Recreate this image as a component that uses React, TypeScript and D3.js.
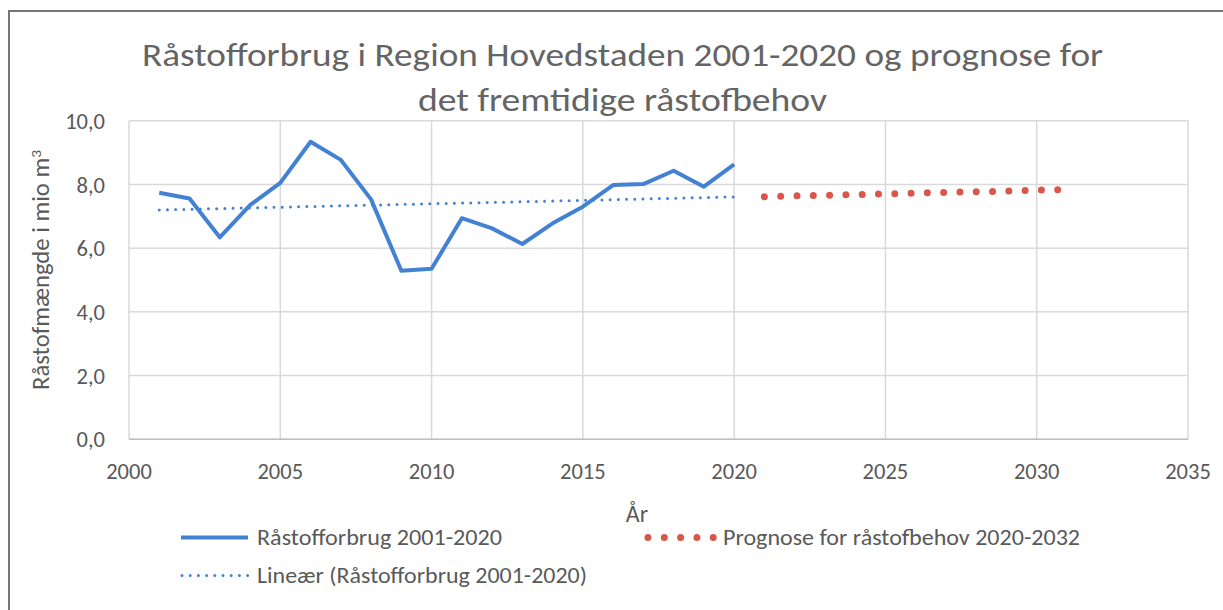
import React from "react";
import * as d3 from "d3";

// Råstofforbrug 2001-2020 (mio m3)
const years = [
  2001, 2002, 2003, 2004, 2005, 2006, 2007, 2008, 2009, 2010,
  2011, 2012, 2013, 2014, 2015, 2016, 2017, 2018, 2019, 2020,
];
const forbrug = [
  7.74, 7.56, 6.34, 7.35, 8.05, 9.34, 8.77, 7.53, 5.29, 5.35,
  6.94, 6.62, 6.13, 6.78, 7.3, 7.98, 8.01, 8.43, 7.93, 8.63,
];

// Prognose for råstofbehov
const prognoseYears = [2021, 2022, 2023, 2024, 2025, 2026, 2027, 2028, 2029, 2030, 2031];
const prognose = [7.61, 7.64, 7.66, 7.68, 7.7, 7.73, 7.75, 7.77, 7.79, 7.82, 7.84];

const xTicks = [2000, 2005, 2010, 2015, 2020, 2025, 2030, 2035];
const yTicks = [0, 2, 4, 6, 8, 10];

const titleLines = [
  "Råstofforbrug i Region Hovedstaden 2001-2020 og prognose for",
  "det fremtidige råstofbehov",
];
const legendNames = [
  "Råstofforbrug 2001-2020",
  "Prognose for råstofbehov 2020-2032",
  "Lineær (Råstofforbrug 2001-2020)",
];

const W = 1223;
const H = 610;
const FONT = "Carlito, Lato, 'Open Sans', sans-serif";
const TXT = "#595959";
const BLUE = "#4382d3";
const RED = "#d9574a";

export default function App() {
  const x = d3.scaleLinear().domain([2000, 2035]).range([129, 1188]);
  const y = d3.scaleLinear().domain([0, 10]).range([439.3, 120.7]);

  const pts: [number, number][] = years.map((yr, i) => [yr, forbrug[i]]);
  const progPts: [number, number][] = prognoseYears.map((yr, i) => [yr, prognose[i]]);

  // lineær trendlinje (mindste kvadraters metode)
  const mx = d3.mean(years) as number;
  const my = d3.mean(forbrug) as number;
  const slope =
    d3.sum(years, (yr, i) => (yr - mx) * (forbrug[i] - my)) /
    d3.sum(years, (yr) => (yr - mx) ** 2);
  const trend = (yr: number) => my + slope * (yr - mx);
  const trendPts: [number, number][] = [
    [years[0], trend(years[0])],
    [years[years.length - 1], trend(years[years.length - 1])],
  ];

  const line = d3
    .line<[number, number]>()
    .x((d) => x(d[0]))
    .y((d) => y(d[1]));

  return (
    <svg
      width={W}
      height={H}
      style={{ position: "absolute", left: 0, top: 0, background: "#fff" }}
      fontFamily={FONT}
    >
      <rect x={9} y={11} width={W} height={H} fill="#fff" stroke="#767676" strokeWidth={2} />

      {/* titel */}
      {titleLines.map((t, i) => (
        <text
          key={i}
          x={622.5}
          y={66 + i * 45}
          textAnchor="middle"
          fontSize={33}
          fill="#646464"
          textLength={i === 0 ? 961 : 409}
          lengthAdjust="spacingAndGlyphs"
        >
          {t}
        </text>
      ))}

      {/* gitterlinjer */}
      {yTicks.map((t) => (
        <line key={"gy" + t} x1={x(2000)} x2={x(2035)} y1={y(t)} y2={y(t)} stroke="#d9d9d9" strokeWidth={1.5} />
      ))}
      {xTicks.map((t) => (
        <line key={"gx" + t} x1={x(t)} x2={x(t)} y1={y(0)} y2={y(10)} stroke="#d9d9d9" strokeWidth={1.5} />
      ))}
      <line x1={x(2000)} x2={x(2035)} y1={y(0)} y2={y(0)} stroke="#bfbfbf" strokeWidth={1.5} />

      {/* akser */}
      {yTicks.map((t) => (
        <text key={"ty" + t} x={105} y={y(t)} dy="0.36em" textAnchor="end" fontSize={22.5} fill={TXT}>
          {d3.format(".1f")(t).replace(".", ",")}
        </text>
      ))}
      {xTicks.map((t) => (
        <text key={"tx" + t} x={x(t)} y={479} textAnchor="middle" fontSize={22.5} fill={TXT}>
          {t}
        </text>
      ))}
      <text x={637} y={522} textAnchor="middle" fontSize={24} fill={TXT}>
        År
      </text>
      <text
        transform="translate(49,270) rotate(-90)"
        textAnchor="middle"
        fontSize={24}
        fill={TXT}
        textLength={240}
        lengthAdjust="spacingAndGlyphs"
      >
        Råstofmængde i mio m<tspan dy={-8} fontSize={15}>3</tspan>
      </text>

      {/* serier */}
      <path d={line(trendPts) || ""} fill="none" stroke={BLUE} strokeWidth={3} strokeDasharray="0 8.2" strokeLinecap="round" />
      <path d={line(pts) || ""} fill="none" stroke={BLUE} strokeWidth={4} strokeLinejoin="round" />
      <path d={line(progPts) || ""} fill="none" stroke={RED} strokeWidth={7} strokeDasharray="0 16.3" strokeLinecap="round" />

      {/* forklaring */}
      <line x1={181} x2={248} y1={537.5} y2={537.5} stroke={BLUE} strokeWidth={4} />
      <text x={257} y={545} fontSize={22} fill={TXT} textLength={245} lengthAdjust="spacingAndGlyphs">
        {legendNames[0]}
      </text>
      <line x1={648} x2={714} y1={537.5} y2={537.5} stroke={RED} strokeWidth={7} strokeDasharray="0 16.3" strokeLinecap="round" />
      <text x={723} y={545} fontSize={22} fill={TXT} textLength={357} lengthAdjust="spacingAndGlyphs">
        {legendNames[1]}
      </text>
      <line x1={182} x2={249} y1={575.5} y2={575.5} stroke={BLUE} strokeWidth={3} strokeDasharray="0 8.2" strokeLinecap="round" />
      <text x={257} y={583} fontSize={22} fill={TXT} textLength={330} lengthAdjust="spacingAndGlyphs">
        {legendNames[2]}
      </text>
    </svg>
  );
}
